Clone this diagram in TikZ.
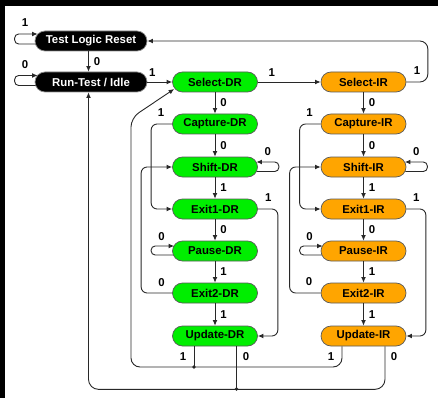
\documentclass[tikz,border=0pt]{standalone}
\usepackage{fontspec}
\setmainfont{Liberation Sans}
\usetikzlibrary{arrows.meta,calc}
\definecolor{jgreen}{RGB}{0,238,0}
\definecolor{jorange}{RGB}{255,165,0}
\definecolor{jline}{RGB}{40,40,40}
\begin{document}
\begin{tikzpicture}[x=1pt,y=-1pt,
  state/.style={draw=black!65, line width=0.7pt, rounded corners=10pt,
    minimum height=20pt, minimum width=85pt, inner sep=0pt,
    font=\fontsize{11.4}{13}\selectfont\bfseries},
  blk/.style={state, fill=black, text=white, draw=black!45, minimum width=112pt},
  drs/.style={state, fill=jgreen},
  irs/.style={state, fill=jorange},
  conn/.style={draw=jline, line width=0.9pt},
  arr/.style={conn, -{Latex[length=5.5pt,width=4.8pt]}},
  lab/.style={font=\fontsize{11.4}{13}\selectfont\bfseries, inner sep=0pt},
  jdot/.style={circle, fill=jline, inner sep=0pt, minimum size=3.6pt}]
\useasboundingbox (0,0) rectangle (438,398);
\fill[white] (0,0) rectangle (438,398);
\fill[black] (0,0) rectangle (438,6);
\fill[black] (0,0) rectangle (5,398);

% nodes
\node[blk] (tlr) at (91,41) {Test Logic Reset};
\node[blk] (rti) at (91,82) {Run-Test / Idle};
\node[drs] (sdr) at (215,82) {Select-DR};
\node[drs] (cdr) at (215,124) {Capture-DR};
\node[drs] (shdr) at (215,167) {Shift-DR};
\node[drs] (e1dr) at (215,209) {Exit1-DR};
\node[drs] (pdr) at (215,251) {Pause-DR};
\node[drs] (e2dr) at (215,293) {Exit2-DR};
\node[drs] (udr) at (215,336) {Update-DR};
\node[irs] (sir) at (363.5,82) {Select-IR};
\node[irs] (cir) at (363.5,124) {Capture-IR};
\node[irs] (shir) at (363.5,167) {Shift-IR};
\node[irs] (e1ir) at (363.5,209) {Exit1-IR};
\node[irs] (pir) at (363.5,251) {Pause-IR};
\node[irs] (e2ir) at (363.5,293) {Exit2-IR};
\node[irs] (uir) at (363.5,336) {Update-IR};

% TLR / RTI loops
\draw[arr, rounded corners=4pt] ($(tlr.west)+(1,3)$) -- ++(-21,0) -- ++(0,-10) -- ($(tlr.west)+(3,-7)$);
\node[lab] (l1) at (25,23) {1};
\draw[arr, rounded corners=4pt] ($(rti.west)+(1,3.5)$) -- ++(-21,0) -- ++(0,-10) -- ($(rti.west)+(3,-6.5)$);
\node[lab] (l2) at (25,65) {0};
\draw[arr] ($(tlr.south)+(-2.5,0)$) -- ($(rti.north)+(-2.5,0)$) node[lab, midway, right=5pt] {0};
\draw[arr] (rti.east) -- (sdr.west) node[lab, pos=0.2, above=5pt] {1};
\draw[arr] (sdr.east) -- (sir.west) node[lab, pos=0.22, above=5pt] {1};
\draw[arr, rounded corners=8pt] (sir.east) -- ++(21.5,0) |- (tlr.east);
\node[lab] (l3) at (417,71) {1};

% vertical chains
\foreach \a/\b/\l in {sdr/cdr/0, cdr/shdr/0, shdr/e1dr/1, e1dr/pdr/0, pdr/e2dr/1, e2dr/udr/1,
                      sir/cir/0, cir/shir/0, shir/e1ir/1, e1ir/pir/0, pir/e2ir/1, e2ir/uir/1}
  \draw[arr] (\a.south) -- (\b.north) node[lab, midway, right=5pt] {\l};

% DR side
\draw[arr, rounded corners=6pt] (cdr.west) -- ++(-21,0) |- (e1dr.west);
\node[lab] (l4) at ($(cdr.west)+(-11,-11)$) {1};
\draw[arr, rounded corners=4pt] ($(shdr.east)+(-1,4.5)$) -- ++(22,0) -- ++(0,-9.5) -- ($(shdr.east)+(-1.5,-5)$);
\node[lab] (l5) at ($(shdr.east)+(10,-15)$) {0};
\draw[arr, rounded corners=6pt] (e1dr.east) -- ++(20,0) |- (udr.east);
\node[lab] (l6) at ($(e1dr.east)+(10.5,-11)$) {1};
\draw[arr, rounded corners=4pt] ($(pdr.west)+(1,4)$) -- ++(-22,0) -- ++(0,-9) -- ($(pdr.west)+(2,-5)$);
\node[lab] (l7) at ($(pdr.west)+(-10.5,-14)$) {0};
\draw[arr, rounded corners=6pt] (e2dr.west) -- ++(-31,0) |- (shdr.west);
\node[lab] (l8) at ($(e2dr.west)+(-10.5,-10)$) {0};

% IR side
\draw[arr, rounded corners=6pt] (cir.west) -- ++(-21,0) |- (e1ir.west);
\node[lab] (l9) at ($(cir.west)+(-11,-11)$) {1};
\draw[arr, rounded corners=4pt] ($(shir.east)+(-1,4.5)$) -- ++(22,0) -- ++(0,-9.5) -- ($(shir.east)+(-1.5,-5)$);
\node[lab] (l10) at ($(shir.east)+(10,-15)$) {0};
\draw[arr, rounded corners=6pt] (e1ir.east) -- ++(19.5,0) |- (uir.east);
\node[lab] (l11) at ($(e1ir.east)+(10,-11)$) {1};
\draw[arr, rounded corners=4pt] ($(pir.west)+(1,4)$) -- ++(-22,0) -- ++(0,-9) -- ($(pir.west)+(2,-5)$);
\node[lab] (l12) at ($(pir.west)+(-11,-14)$) {0};
\draw[arr, rounded corners=6pt] (e2ir.west) -- ++(-31,0) |- (shir.west);
\node[lab] (l13) at ($(e2ir.west)+(-11.5,-11)$) {0};

% update returns
\coordinate (j1) at (194,367);
\coordinate (j0) at (236.5,389);
\coordinate (c1) at (131,367);
\coordinate (c2) at (131,118);
\draw[conn] ($(udr.south)+(-21,0)$) -- (j1);
\draw[conn] ($(udr.south)+(21.5,0)$) -- (j0);
\draw[arr, rounded corners=9pt] ($(uir.south)+(-21.5,0)$) |- (c1) -- (c2) -- ($(sdr.west)+(2,7)$);
\draw[arr, rounded corners=10pt] ($(uir.south)+(21.5,0)$) |- ($(rti.south)+(-2.5,297)$) -- ($(rti.south)+(-2.5,0)$);
\node[jdot] (d1) at (j1) {};
\node[jdot] (d0) at (j0) {};
\node[lab] (l14) at (183,357) {1};
\node[lab] (l15) at (246,357) {0};
\node[lab] (l16) at (331,357) {1};
\node[lab] (l17) at (394,357) {0};
\end{tikzpicture}
\end{document}
